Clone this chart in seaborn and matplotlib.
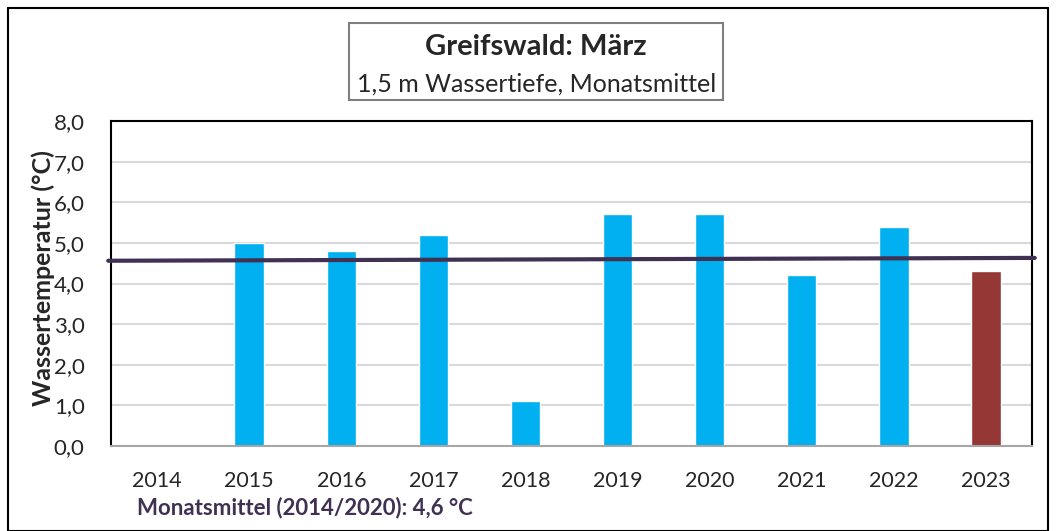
import matplotlib
matplotlib.use("Agg")
import matplotlib.pyplot as plt
import seaborn as sns
import pandas as pd
from matplotlib.patches import Rectangle

years = ["2014", "2015", "2016", "2017", "2018", "2019", "2020", "2021", "2022", "2023"]
temps = [0.0, 5.0, 4.8, 5.2, 1.1, 5.7, 5.7, 4.2, 5.4, 4.3]
bar_colors = ["#00B0F0"] * 9 + ["#953735"]
mean_line = [4.56, 4.63]  # left end, right end
yticks = [0, 1, 2, 3, 4, 5, 6, 7, 8]

sns.set_theme(style="white")
plt.rcParams['font.family'] = ['Lato', 'DejaVu Sans']

df = pd.DataFrame({"Jahr": years, "Temp": temps})

fig = plt.figure(figsize=(10.56, 5.31), dpi=100)
ax = fig.add_axes([111/1056, 1-446/531, (1032-111)/1056, (446-121)/531])

sns.barplot(data=df, x="Jahr", y="Temp", hue="Jahr", palette=bar_colors,
            legend=False, width=0.32, saturation=1, ax=ax, zorder=2)

ax.set_xlim(-0.5, 9.5)
ax.set_ylim(0, 8)
ax.set_yticks(yticks)
ax.set_yticklabels([f"{v:.1f}".replace(".", ",") for v in yticks], fontsize=16)
ax.tick_params(axis="x", labelsize=15.5, length=0, pad=18)
ax.tick_params(axis="y", length=0, pad=19)
ax.grid(axis="y", color="#D9D9D9", lw=1.5, zorder=0)
ax.set_axisbelow(True)
ax.set_xlabel("")
ax.set_ylabel("")
fig.text(43/1056, 1-278/531, "Wassertemperatur (°C)", rotation=90, ha="center",
         va="center", fontsize=18, fontweight="bold")

for s in ["left", "top", "right"]:
    ax.spines[s].set_color("black")
    ax.spines[s].set_linewidth(1.5)
ax.spines["bottom"].set_color("#A6A6A6")
ax.spines["bottom"].set_linewidth(1.5)

ax.plot([-0.53, 9.53], mean_line, color="#403152", lw=3, zorder=3, clip_on=False)

# title box
fig.patches.append(Rectangle((349/1056, 1-100/531), (723-349)/1056, (100-23)/531,
                             transform=fig.transFigure, fill=False,
                             edgecolor="#7F7F7F", lw=1.5))
fig.text(536/1056, 1-47/531, "Greifswald: März", ha="center", va="center",
         fontsize=21, fontweight="bold")
fig.text(537/1056, 1-84/531, "1,5 m Wassertiefe, Monatsmittel", ha="center",
         va="center", fontsize=18)

fig.text(137/1056, 1-508/531, "Monatsmittel (2014/2020): 4,6 °C", ha="left",
         va="center", fontsize=16, fontweight="bold", color="#403152")

# figure border
fig.patches.append(Rectangle((8/1056, 0), (1048-8)/1056, 1-8/531,
                             transform=fig.transFigure, fill=False,
                             edgecolor="black", lw=1.5))

fig.savefig("out.png", dpi=100)
